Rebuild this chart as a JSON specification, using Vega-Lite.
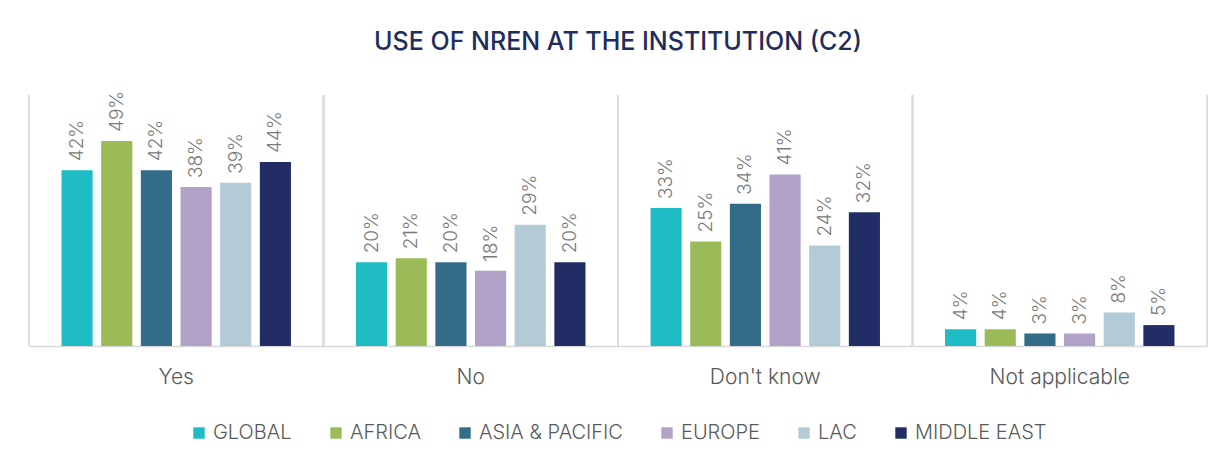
{
  "$schema": "https://vega.github.io/schema/vega-lite/v6.json",
  "autosize": "none",
  "width": 1178,
  "height": 251,
  "padding": {"left": 29, "top": 95, "right": 19, "bottom": 107},
  "background": "white",
  "title": {
    "text": "USE OF NREN AT THE INSTITUTION (C2)",
    "anchor": "middle",
    "font": "Inter",
    "fontSize": 25,
    "fontWeight": 500,
    "color": "#1f2d5c",
    "offset": 16,
    "baseline": "alphabetic"
  },
  "data": {
    "values": [
      {"answer": "Yes", "region": "GLOBAL", "value": 0.42},
      {"answer": "Yes", "region": "AFRICA", "value": 0.49},
      {"answer": "Yes", "region": "ASIA & PACIFIC", "value": 0.42},
      {"answer": "Yes", "region": "EUROPE", "value": 0.38},
      {"answer": "Yes", "region": "LAC", "value": 0.39},
      {"answer": "Yes", "region": "MIDDLE EAST", "value": 0.44},
      {"answer": "No", "region": "GLOBAL", "value": 0.20},
      {"answer": "No", "region": "AFRICA", "value": 0.21},
      {"answer": "No", "region": "ASIA & PACIFIC", "value": 0.20},
      {"answer": "No", "region": "EUROPE", "value": 0.18},
      {"answer": "No", "region": "LAC", "value": 0.29},
      {"answer": "No", "region": "MIDDLE EAST", "value": 0.20},
      {"answer": "Don't know", "region": "GLOBAL", "value": 0.33},
      {"answer": "Don't know", "region": "AFRICA", "value": 0.25},
      {"answer": "Don't know", "region": "ASIA & PACIFIC", "value": 0.34},
      {"answer": "Don't know", "region": "EUROPE", "value": 0.41},
      {"answer": "Don't know", "region": "LAC", "value": 0.24},
      {"answer": "Don't know", "region": "MIDDLE EAST", "value": 0.32},
      {"answer": "Not applicable", "region": "GLOBAL", "value": 0.04},
      {"answer": "Not applicable", "region": "AFRICA", "value": 0.04},
      {"answer": "Not applicable", "region": "ASIA & PACIFIC", "value": 0.03},
      {"answer": "Not applicable", "region": "EUROPE", "value": 0.03},
      {"answer": "Not applicable", "region": "LAC", "value": 0.08},
      {"answer": "Not applicable", "region": "MIDDLE EAST", "value": 0.05}
    ]
  },
  "encoding": {
    "x": {
      "field": "answer",
      "type": "nominal",
      "sort": ["Yes", "No", "Don't know", "Not applicable"],
      "scale": {"paddingInner": 0, "paddingOuter": 0},
      "axis": {
        "title": null,
        "labelAngle": 0,
        "labelFont": "Inter",
        "labelFontSize": 21,
        "labelFontWeight": 300,
        "labelColor": "#595959",
        "labelPadding": 20,
        "ticks": false,
        "domain": true,
        "domainColor": "#d9d9d9",
        "domainWidth": 1.5,
        "grid": false
      }
    }
  },
  "layer": [
    {
      "mark": {"type": "rule", "color": "#dcdcdc", "strokeWidth": 1.5},
      "encoding": {
        "x": {"field": "answer", "type": "nominal", "sort": ["Yes", "No", "Don't know", "Not applicable"], "bandPosition": 0}
      }
    },
    {
      "transform": [{"filter": "datum.answer === 'Not applicable'"}],
      "mark": {"type": "rule", "color": "#dcdcdc", "strokeWidth": 1.5},
      "encoding": {
        "x": {"field": "answer", "type": "nominal", "sort": ["Yes", "No", "Don't know", "Not applicable"], "bandPosition": 1}
      }
    },
    {
      "mark": {"type": "bar"},
      "encoding": {
        "xOffset": {
          "field": "region",
          "type": "nominal",
          "sort": ["GLOBAL", "AFRICA", "ASIA & PACIFIC", "EUROPE", "LAC", "MIDDLE EAST"],
          "scale": {"paddingInner": 0.215, "paddingOuter": 0.82}
        },
        "y": {
          "field": "value",
          "type": "quantitative",
          "scale": {"domain": [0, 0.6]},
          "axis": null
        },
        "color": {
          "field": "region",
          "type": "nominal",
          "sort": ["GLOBAL", "AFRICA", "ASIA & PACIFIC", "EUROPE", "LAC", "MIDDLE EAST"],
          "scale": {
            "domain": ["GLOBAL", "AFRICA", "ASIA & PACIFIC", "EUROPE", "LAC", "MIDDLE EAST"],
            "range": ["#1fbcc6", "#9bbb59", "#336c89", "#b3a2c7", "#b3cbd6", "#212d64"]
          },
          "legend": {
            "title": null,
            "orient": "bottom",
            "direction": "horizontal",
            "symbolType": "square",
            "symbolSize": 130,
            "symbolStrokeWidth": 0,
            "labelFont": "Inter",
            "labelFontSize": 20,
            "labelFontWeight": 300,
            "labelColor": "#595959",
            "labelOffset": 4,
            "columnPadding": 34,
            "offset": 36,
            "labelLimit": 300
          }
        }
      }
    },
    {
      "mark": {
        "type": "text",
        "angle": 270,
        "align": "left",
        "baseline": "middle",
        "dx": 9,
        "font": "Inter",
        "fontSize": 19,
        "fontWeight": 300,
        "color": "#7a7a7a"
      },
      "encoding": {
        "xOffset": {
          "field": "region",
          "type": "nominal",
          "sort": ["GLOBAL", "AFRICA", "ASIA & PACIFIC", "EUROPE", "LAC", "MIDDLE EAST"],
          "scale": {"paddingInner": 0.215, "paddingOuter": 0.82}
        },
        "y": {"field": "value", "type": "quantitative"},
        "text": {"field": "value", "type": "quantitative", "format": ".0%"},
        "detail": {"field": "region"}
      }
    }
  ],
  "config": {
    "view": {"stroke": null},
    "legend": {"layout": {"bottom": {"anchor": "middle"}}}
  }
}
